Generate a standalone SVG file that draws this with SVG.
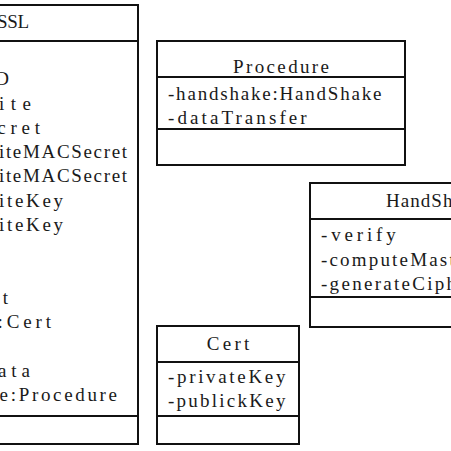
<svg xmlns="http://www.w3.org/2000/svg" width="451" height="451" viewBox="0 0 451 451">
<style>
.box{fill:#fff;stroke:#111;stroke-width:2}
.sep{stroke:#111;stroke-width:2}
text{font-family:"Liberation Serif","DejaVu Serif",serif;font-size:19px;fill:#1a1a1a}
.t{text-anchor:middle}
.e{text-anchor:end}
</style>
<rect width="451" height="451" fill="#fff"/>
<g id="connectors"></g>
<g id="SSL">
<rect class="box" x="-112" y="5" width="250" height="439"/>
<line class="sep" x1="-112" y1="41" x2="138" y2="41"/>
<line class="sep" x1="-112" y1="416" x2="138" y2="416"/>
<text class="t" x="13" y="28" textLength="32" lengthAdjust="spacing">SSL</text>
<text class="e" x="9" y="85">D</text>
<text class="e" x="31" y="109.5" textLength="32" lengthAdjust="spacing">ite</text>
<text class="e" x="40" y="133.5" textLength="42.7" lengthAdjust="spacing">cret</text>
<text class="e" x="127" y="158" textLength="128" lengthAdjust="spacing">iteMACSecret</text>
<text class="e" x="127" y="182" textLength="128" lengthAdjust="spacing">iteMACSecret</text>
<text class="e" x="63" y="206.5" textLength="64" lengthAdjust="spacing">iteKey</text>
<text class="e" x="63" y="230.5" textLength="64" lengthAdjust="spacing">iteKey</text>
<text class="e" x="8" y="303.5">t</text>
<text class="e" x="51" y="328" textLength="53.4" lengthAdjust="spacing">:Cert</text>
<text class="e" x="30" y="376.5" textLength="32" lengthAdjust="spacing">ata</text>
<text class="e" x="117" y="400.5" textLength="117.4" lengthAdjust="spacing">e:Procedure</text>
</g>
<g id="Procedure">
<rect class="box" x="157" y="41" width="248" height="124"/>
<line class="sep" x1="157" y1="77" x2="405" y2="77"/>
<line class="sep" x1="157" y1="129" x2="405" y2="129"/>
<text class="t" x="281" y="73" textLength="96" lengthAdjust="spacing">Procedure</text>
<text x="168" y="99.5" textLength="213.4" lengthAdjust="spacing">-handshake:HandShake</text>
<text x="168" y="124" textLength="138.7" lengthAdjust="spacing">-dataTransfer</text>
</g>
<g id="HandShake">
<rect class="box" x="310" y="183" width="248" height="144"/>
<line class="sep" x1="310" y1="219" x2="558" y2="219"/>
<line class="sep" x1="310" y1="297" x2="558" y2="297"/>
<text class="t" x="434" y="207" textLength="96" lengthAdjust="spacing">HandShake</text>
<text x="321" y="241" textLength="74.7" lengthAdjust="spacing">-verify</text>
<text x="321" y="265.5" textLength="213.4" lengthAdjust="spacing">-computeMasterSecret</text>
<text x="321" y="290" textLength="202.7" lengthAdjust="spacing">-generateCipherKeys</text>
</g>
<g id="Cert">
<rect class="box" x="157" y="326" width="142" height="118"/>
<line class="sep" x1="157" y1="362" x2="299" y2="362"/>
<line class="sep" x1="157" y1="416" x2="299" y2="416"/>
<text class="t" x="228" y="350" textLength="42.7" lengthAdjust="spacing">Cert</text>
<text x="168" y="383" textLength="117.4" lengthAdjust="spacing">-privateKey</text>
<text x="168" y="407" textLength="117.4" lengthAdjust="spacing">-publickKey</text>
</g>
</svg>
